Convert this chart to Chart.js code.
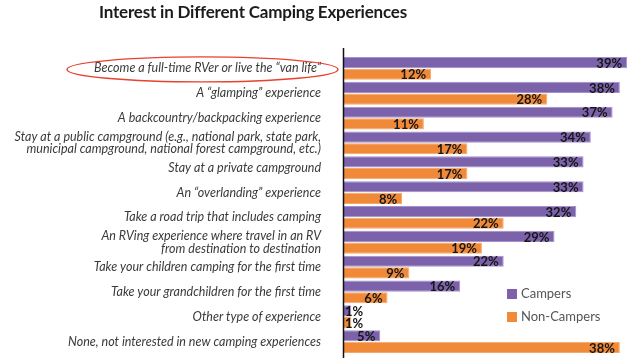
<!DOCTYPE html>
<html>
<head>
<meta charset="utf-8">
<script src="https://cdn.jsdelivr.net/npm/chart.js@4.4.1/dist/chart.umd.min.js"></script>
<style>
  html, body { margin: 0; padding: 0; background: #fff; }
  #wrap { position: relative; width: 630px; height: 359px; }
  #title {
    position: absolute; top: 1px; left: 0; width: 506px; text-align: center;
    font-family: Lato, sans-serif; font-weight: 700; font-size: 17px; color: #1b1b1b;
    letter-spacing: -0.2px;
  }
</style>
</head>
<body>
<div id="wrap">
  <div id="title">Interest in Different Camping Experiences</div>
  <canvas id="chart" width="630" height="359"></canvas>
</div>
<script>
// categories, top to bottom
const categories = [
  'Become a full-time RVer or live the \u201cvan life\u201d',
  'A \u201cglamping\u201d experience',
  'A backcountry/backpacking experience',
  ['Stay at a public campground (e.g., national park, state park,', 'municipal campground, national forest campground, etc.)'],
  'Stay at a private campground',
  'An \u201coverlanding\u201d experience',
  'Take a road trip that includes camping',
  ['An RVing experience where travel in an RV', 'from destination to destination'],
  'Take your children camping for the first time',
  'Take your grandchildren for the first time',
  'Other type of experience',
  'None, not interested in new camping experiences'
];
const campers    = [39, 38, 37, 34, 33, 33, 32, 29, 22, 16, 1, 5];
const nonCampers = [12, 28, 11, 17, 17, 8, 22, 19, 9, 6, 1, 38];
const seriesNames = ['Campers', 'Non-Campers'];

const purple = '#7b62ab';
const orange = '#f08a38';

// value labels at the end of each bar
const valueLabels = {
  id: 'valueLabels',
  afterDatasetsDraw(chart) {
    const ctx = chart.ctx;
    const left = chart.chartArea.left;
    ctx.save();
    ctx.font = 'bold 13px Lato, sans-serif';
    ctx.fillStyle = '#161616';
    ctx.textBaseline = 'middle';
    ctx.textAlign = 'right';
    chart.data.datasets.forEach((ds, i) => {
      chart.getDatasetMeta(i).data.forEach((bar, j) => {
        const txt = ds.data[j] + '%';
        const w = ctx.measureText(txt).width;
        let x = bar.x - 5;
        // too short to hold its label: push it right of the axis
        if (x - w < left + 1) x = left + 1 + w;
        ctx.fillText(txt, x, bar.y + 1);
      });
    });
    ctx.restore();
  }
};

// axis line, legend and highlight ring
const extras = {
  id: 'extras',
  afterDraw(chart) {
    const ctx = chart.ctx;
    const area = chart.chartArea;
    const y = chart.scales.y;
    ctx.save();
    // vertical axis line
    ctx.strokeStyle = '#111';
    ctx.lineWidth = 1.5;
    ctx.beginPath();
    ctx.moveTo(area.left - 0.5, area.top - 8);
    ctx.lineTo(area.left - 0.5, area.bottom + 4);
    ctx.stroke();

    // legend
    const colors = [purple, orange];
    ctx.font = '13px Lato, sans-serif';
    ctx.textBaseline = 'middle';
    ctx.textAlign = 'left';
    seriesNames.forEach((name, i) => {
      const ly = 289 + i * 23;
      ctx.fillStyle = colors[i];
      ctx.fillRect(507, ly, 10, 10);
      ctx.fillStyle = '#555';
      ctx.fillText(name, 521, ly + 5);
    });

    // red ring around the first category label
    const cy = y.getPixelForValue(0) + 1;
    ctx.strokeStyle = '#e8412e';
    ctx.lineWidth = 1.4;
    ctx.beginPath();
    ctx.ellipse(202.5, cy, 135.5, 12.5, 0, 0, Math.PI * 2);
    ctx.stroke();
    ctx.restore();
  }
};

new Chart(document.getElementById('chart'), {
  type: 'bar',
  data: {
    labels: categories,
    datasets: [
      {
        label: seriesNames[0],
        data: campers,
        backgroundColor: purple,
        borderColor: '#a391cc',
        borderWidth: 1,
        categoryPercentage: 0.94,
        barPercentage: 0.96
      },
      {
        label: seriesNames[1],
        data: nonCampers,
        backgroundColor: orange,
        borderColor: '#f6a868',
        borderWidth: 1,
        categoryPercentage: 0.94,
        barPercentage: 0.96
      }
    ]
  },
  options: {
    indexAxis: 'y',
    responsive: false,
    animation: false,
    layout: { padding: { top: 56, bottom: 5, left: 0, right: 0 } },
    plugins: {
      legend: { display: false },
      tooltip: { enabled: false }
    },
    scales: {
      x: { display: false, min: 0, max: 39.4 },
      y: {
        grid: { display: false },
        border: { display: false },
        afterFit(scale) {
          scale.width = 344;
          scale.paddingTop = 0;
          scale.paddingBottom = 0;
        },
        ticks: {
          autoSkip: false,
          padding: 15,
          color: '#3a3a3a',
          font: { family: 'Lato, sans-serif', style: 'italic', size: 12.5, lineHeight: 1.0 }
        }
      }
    }
  },
  plugins: [valueLabels, extras]
});
</script>
</body>
</html>
